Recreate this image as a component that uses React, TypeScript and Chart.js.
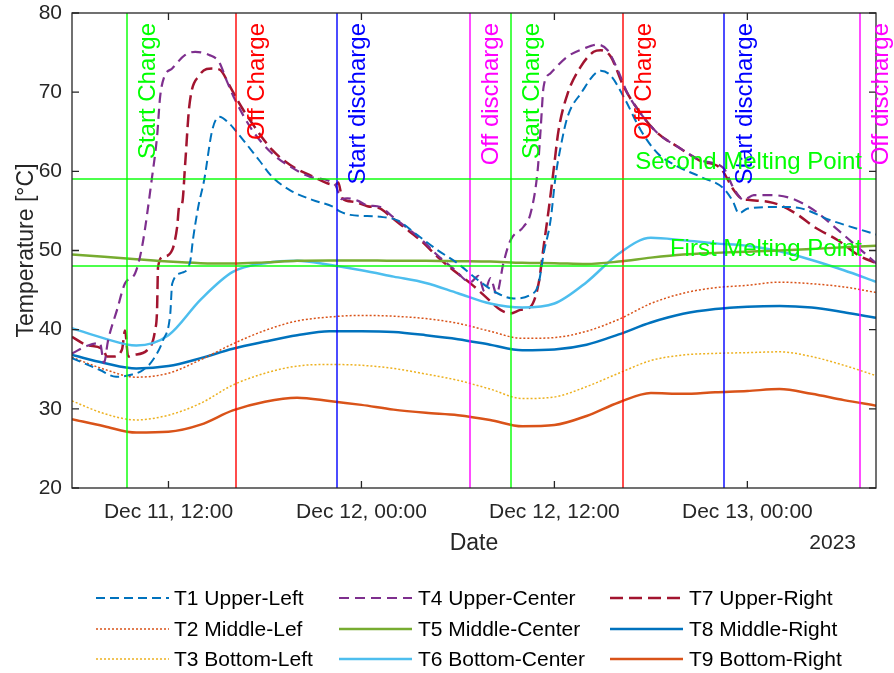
import React, { useEffect, useRef } from 'react';
import { Chart, registerables } from 'chart.js';

Chart.register(...registerables);

const FONT = '"Liberation Sans", Arial, Helvetica, sans-serif';
const AXIS_COLOR = '#262626';

// ---- x axis (hours since Dec 11, 00:00) ----
const xMinHour = 6;
const xMaxHour = 56;
const xTickHours = [12, 24, 36, 48];
const xTickLabels = ['Dec 11, 12:00', 'Dec 12, 00:00', 'Dec 12, 12:00', 'Dec 13, 00:00'];
const yearLabel = '2023';

// ---- shared time grid for the smooth sensors ----
const gridHours = [6, 8, 10, 12, 14, 16, 18, 20, 22, 24, 26, 28, 30, 32, 34, 36, 38, 40, 42, 44, 46, 48, 50, 52, 54, 56];
const t2Values = [36.5, 35.0, 34.0, 34.5, 36.2, 38.2, 39.9, 41.1, 41.6, 41.8, 41.7, 41.4, 40.8, 39.8, 38.9, 39.0, 39.8, 41.3, 43.3, 44.6, 45.3, 45.6, 46.0, 45.8, 45.4, 44.7];
const t3Values = [31.0, 29.4, 28.6, 29.2, 30.7, 33.0, 34.5, 35.4, 35.6, 35.5, 35.1, 34.4, 33.6, 32.5, 31.3, 31.5, 32.8, 34.5, 36.1, 36.8, 37.0, 37.1, 37.2, 36.6, 35.5, 34.2];
const t5Values = [49.5, 49.2, 48.9, 48.6, 48.4, 48.35, 48.5, 48.7, 48.75, 48.75, 48.7, 48.7, 48.65, 48.6, 48.45, 48.4, 48.3, 48.6, 49.1, 49.5, 49.7, 49.85, 50.0, 50.2, 50.4, 50.6];
const t6Values = [40.2, 38.9, 38.0, 39.3, 43.8, 47.3, 48.4, 48.7, 48.2, 47.5, 46.7, 45.9, 44.6, 43.3, 42.8, 43.3, 46.0, 49.6, 51.6, 51.3, 50.9, 50.6, 49.9, 48.8, 47.5, 46.05];
const t8Values = [36.8, 35.8, 35.1, 35.4, 36.4, 37.6, 38.5, 39.3, 39.8, 39.8, 39.7, 39.3, 38.8, 38.1, 37.4, 37.5, 38.1, 39.4, 40.9, 42.0, 42.6, 42.9, 43.0, 42.8, 42.2, 41.5];
const t9Values = [28.7, 27.8, 27.0, 27.1, 28.0, 29.8, 30.9, 31.4, 31.0, 30.5, 29.9, 29.5, 29.2, 28.6, 27.8, 27.95, 29.1, 30.8, 32.0, 31.9, 32.1, 32.25, 32.5, 31.9, 31.1, 30.4];

// ---- upper sensors (own time stamps) ----
const t1Hours = [6.0, 7.74, 8.74, 9.67, 10.42, 11.04, 11.67, 12.11, 12.23, 12.85, 13.35, 13.53, 13.85, 14.22, 14.72, 15.15, 15.78, 16.15, 17.64, 18.45, 19.57, 20.94, 22.25, 22.69, 23.31, 25.18, 26.24, 27.48, 28.73, 29.97, 31.22, 32.46, 33.46, 34.52, 35.02, 35.33, 35.76, 36.07, 36.39, 36.82, 37.63, 38.88, 39.5, 40.31, 41.37, 42.43, 43.67, 45.1, 46.54, 47.1, 47.47, 48.03, 50.08, 51.14, 53.2, 56.06];
const t1Values = [36.4, 34.9, 34.05, 34.3, 34.9, 36.2, 38.7, 42.0, 45.8, 47.2, 48.6, 51.5, 55.5, 58.9, 65.2, 66.9, 66.05, 65.2, 61.4, 59.3, 57.6, 56.4, 55.5, 54.9, 54.5, 54.25, 53.8, 51.95, 50.05, 48.4, 46.3, 44.6, 43.95, 44.4, 45.85, 49.6, 53.8, 59.3, 63.1, 66.9, 69.8, 72.7, 72.1, 69.4, 65.2, 62.25, 60.6, 59.3, 57.8, 56.2, 54.7, 55.3, 55.5, 55.4, 53.8, 52.0];

const t4Hours = [6.0, 7.0, 7.74, 7.99, 8.24, 8.8, 9.3, 9.92, 10.36, 10.98, 11.29, 11.48, 11.73, 12.23, 13.04, 13.66, 14.53, 15.15, 15.65, 16.15, 17.21, 18.45, 19.57, 20.82, 22.38, 22.75, 23.12, 23.75, 24.37, 25.18, 25.8, 26.61, 27.67, 28.73, 29.72, 30.78, 31.28, 31.65, 32.03, 32.4, 32.84, 33.27, 34.08, 34.52, 34.96, 35.14, 35.33, 35.76, 36.82, 37.82, 38.69, 39.31, 39.94, 40.56, 41.37, 42.43, 43.67, 45.1, 46.54, 47.16, 47.78, 48.4, 49.46, 50.71, 52.14, 53.63, 55.07, 56.06];
const t4Values = [37.0, 38.0, 38.3, 35.8, 38.6, 42.5, 45.85, 47.1, 50.5, 59.3, 64.4, 69.4, 71.9, 73.0, 74.7, 75.1, 74.7, 73.8, 71.3, 69.0, 65.2, 62.25, 60.6, 59.3, 58.25, 56.5, 56.6, 56.3, 55.7, 55.5, 54.5, 53.2, 51.5, 49.4, 47.7, 46.0, 46.8, 44.8, 46.5, 44.5, 48.5, 51.3, 53.0, 54.7, 60.15, 65.2, 70.7, 72.4, 74.5, 75.5, 76.0, 75.3, 72.8, 69.8, 67.3, 64.8, 63.1, 61.4, 60.35, 57.8, 56.4, 57.0, 57.0, 56.6, 55.1, 52.6, 50.05, 48.3];

const t7Hours = [6.0, 6.93, 7.93, 8.18, 8.55, 9.11, 9.3, 9.49, 9.8, 10.67, 11.17, 11.29, 11.35, 11.67, 12.23, 12.54, 12.66, 12.85, 13.04, 13.29, 13.91, 14.72, 15.22, 15.78, 16.4, 17.21, 18.45, 19.57, 20.82, 22.38, 22.56, 22.81, 23.5, 24.37, 25.18, 25.8, 26.61, 27.67, 28.73, 29.72, 30.78, 31.59, 32.65, 33.27, 33.9, 34.52, 35.02, 35.33, 35.64, 35.95, 36.26, 36.82, 37.63, 38.44, 38.88, 39.5, 40.31, 41.37, 42.43, 43.67, 45.1, 46.35, 47.16, 47.6, 48.03, 49.27, 50.08, 51.14, 52.14, 53.63, 55.07, 56.06];
const t7Values = [39.1, 38.05, 37.5, 36.6, 36.6, 37.5, 39.9, 36.6, 36.8, 37.4, 39.95, 42.5, 47.9, 49.2, 50.05, 53.0, 55.5, 55.95, 61.0, 68.15, 72.1, 73.0, 72.8, 70.9, 68.6, 66.05, 62.7, 60.8, 59.5, 58.3, 58.6, 56.6, 56.15, 55.6, 55.3, 54.3, 53.0, 51.3, 49.2, 47.5, 45.85, 44.4, 42.5, 42.05, 42.5, 42.9, 45.85, 50.5, 55.1, 60.15, 65.2, 69.8, 73.2, 75.1, 75.3, 74.5, 70.7, 67.3, 64.8, 63.1, 61.3, 60.35, 57.6, 56.6, 56.4, 56.15, 55.7, 54.5, 53.0, 51.3, 49.2, 48.4];

// ---- events and melting points ----
const eventHours = [9.41, 16.17, 22.48, 30.74, 33.32, 40.29, 46.55, 54.98];
const eventLabels = ['Start Charge', 'Off Charge', 'Start discharge', 'Off discharge', 'Start Charge', 'Off Charge', 'Start discharge', 'Off discharge'];
const eventTextColors = ['#00ff00', '#ff0000', '#0000ff', '#ff00ff'];
const eventLineColors = ['rgba(0,255,0,0.7)', 'rgba(255,0,0,0.7)', 'rgba(0,0,255,0.7)', 'rgba(255,0,255,0.7)'];
const meltTemps = [59, 48];
const meltLabels = ['Second Melting Point', 'First Melting Point'];

const seriesNames = ['T1 Upper-Left', 'T2 Middle-Lef', 'T3 Bottom-Left', 'T4 Upper-Center', 'T5 Middle-Center', 'T6 Bottom-Center', 'T7 Upper-Right', 'T8 Middle-Right', 'T9 Bottom-Right'];
const seriesColors = ['#0072BD', '#D95319', '#EDB120', '#7E2F8E', '#77AC30', '#4DBEEE', '#A2142F', '#0072BD', '#D95319'];

const pairs = (xs: number[], ys: number[]) => xs.map((x, i) => ({ x, y: ys[i] }));

const DASH1 = [9, 5];
const DASH4 = [10, 6];
const DASH7 = [13, 6];
const DOT = [2, 2];

function makeDatasets() {
  const src = [
    { d: pairs(t1Hours, t1Values), dash: DASH1, w: 2 },
    { d: pairs(gridHours, t2Values), dash: DOT, w: 1.5 },
    { d: pairs(gridHours, t3Values), dash: DOT, w: 1.5 },
    { d: pairs(t4Hours, t4Values), dash: DASH4, w: 2.2 },
    { d: pairs(gridHours, t5Values), dash: [], w: 2.5 },
    { d: pairs(gridHours, t6Values), dash: [], w: 2.5 },
    { d: pairs(t7Hours, t7Values), dash: DASH7, w: 2.5 },
    { d: pairs(gridHours, t8Values), dash: [], w: 2.5 },
    { d: pairs(gridHours, t9Values), dash: [], w: 2.5 },
  ];
  return src.map((s, i) => ({
    label: seriesNames[i],
    data: s.d,
    borderColor: seriesColors[i],
    backgroundColor: seriesColors[i],
    borderWidth: s.w,
    borderDash: s.dash,
    pointRadius: 0,
    fill: false,
    cubicInterpolationMode: 'monotone' as const,
  }));
}

const overlayPlugin = {
  id: 'overlay',
  afterDatasetsDraw(chart: any) {
    const { ctx, chartArea: a } = chart;
    const xs = chart.scales.x;
    const ys = chart.scales.y;
    ctx.save();
    ctx.setLineDash([]);
    ctx.lineWidth = 2;
    eventHours.forEach((h, i) => {
      const px = Math.round(xs.getPixelForValue(h));
      ctx.strokeStyle = eventLineColors[i % 4];
      ctx.beginPath();
      ctx.moveTo(px, a.top);
      ctx.lineTo(px, a.bottom);
      ctx.stroke();
    });
    meltTemps.forEach((t) => {
      const py = Math.round(ys.getPixelForValue(t));
      ctx.strokeStyle = 'rgba(0,255,0,0.7)';
      ctx.beginPath();
      ctx.moveTo(a.left, py);
      ctx.lineTo(a.right, py);
      ctx.stroke();
    });
    // frame with inward ticks
    ctx.strokeStyle = AXIS_COLOR;
    ctx.lineWidth = 1.3;
    ctx.strokeRect(a.left, a.top, a.right - a.left, a.bottom - a.top);
    const tl = 7;
    ctx.beginPath();
    ys.ticks.forEach((t: any) => {
      const py = ys.getPixelForValue(t.value);
      ctx.moveTo(a.left, py);
      ctx.lineTo(a.left + tl, py);
      ctx.moveTo(a.right, py);
      ctx.lineTo(a.right - tl, py);
    });
    xs.ticks.forEach((t: any) => {
      const px = xs.getPixelForValue(t.value);
      ctx.moveTo(px, a.bottom);
      ctx.lineTo(px, a.bottom - tl);
      ctx.moveTo(px, a.top);
      ctx.lineTo(px, a.top + tl);
    });
    ctx.stroke();
    ctx.restore();
  },
  afterDraw(chart: any) {
    const { ctx, chartArea: a } = chart;
    const xs = chart.scales.x;
    const ys = chart.scales.y;
    ctx.save();
    ctx.font = `24px ${FONT}`;
    // vertical event labels
    eventHours.forEach((h, i) => {
      const px = Math.round(xs.getPixelForValue(h));
      ctx.save();
      ctx.translate(px + 28, a.top + 10);
      ctx.rotate(-Math.PI / 2);
      ctx.textAlign = 'right';
      ctx.textBaseline = 'alphabetic';
      ctx.fillStyle = eventTextColors[i % 4];
      ctx.fillText(eventLabels[i], 0, 0);
      ctx.restore();
    });
    // melting point labels
    ctx.textAlign = 'right';
    ctx.textBaseline = 'alphabetic';
    ctx.fillStyle = '#00ff00';
    meltTemps.forEach((t, i) => {
      const py = ys.getPixelForValue(t);
      ctx.fillText(meltLabels[i], a.right - 14, py - 10);
    });
    // year label
    ctx.font = `21px ${FONT}`;
    ctx.fillStyle = AXIS_COLOR;
    ctx.textBaseline = 'middle';
    ctx.fillText(yearLabel, a.right - 20, 543);
    // legend (3 columns, column-major)
    const colLine = [96, 339, 610];
    const colText = [174, 418, 689];
    const rowY = [598, 629, 659];
    const lineLen = 73;
    chart.data.datasets.forEach((ds: any, i: number) => {
      const col = Math.floor(i / 3);
      const row = i % 3;
      const y = rowY[row];
      ctx.save();
      ctx.strokeStyle = ds.borderColor;
      ctx.lineWidth = ds.borderWidth;
      ctx.setLineDash(ds.borderDash || []);
      ctx.beginPath();
      ctx.moveTo(colLine[col], y);
      ctx.lineTo(colLine[col] + lineLen, y);
      ctx.stroke();
      ctx.restore();
      ctx.textAlign = 'left';
      ctx.textBaseline = 'middle';
      ctx.fillStyle = '#000';
      ctx.fillText(ds.label, colText[col], y + 1);
    });
    ctx.restore();
  },
};

export default function App() {
  const ref = useRef<HTMLCanvasElement>(null);
  useEffect(() => {
    if (!ref.current) return;
    const chart = new Chart(ref.current, {
      type: 'line',
      data: { datasets: makeDatasets() as any },
      options: {
        responsive: false,
        devicePixelRatio: 1,
        animation: false,
        layout: { padding: { top: 13, right: 18, bottom: 112, left: 0 } },
        plugins: { legend: { display: false }, tooltip: { enabled: false } },
        scales: {
          x: {
            type: 'linear',
            min: xMinHour,
            max: xMaxHour,
            afterBuildTicks: (s: any) => {
              s.ticks = xTickHours.map((v) => ({ value: v }));
            },
            afterFit: (s: any) => {
              s.height = 73;
              s.paddingLeft = 0;
              s.paddingRight = 0;
            },
            ticks: {
              autoSkip: false,
              maxRotation: 0,
              padding: 12,
              color: AXIS_COLOR,
              font: { family: FONT, size: 21 },
              callback: (_v: any, idx: number) => xTickLabels[idx],
            },
            grid: { display: false, drawTicks: false },
            border: { display: false },
            title: {
              display: true,
              text: 'Date',
              color: AXIS_COLOR,
              font: { family: FONT, size: 23 },
              padding: { top: 0, bottom: 4 },
            },
          },
          y: {
            type: 'linear',
            min: 20,
            max: 80,
            afterFit: (s: any) => {
              s.width = 72;
              s.paddingTop = 0;
              s.paddingBottom = 0;
            },
            ticks: {
              stepSize: 10,
              padding: 10,
              color: AXIS_COLOR,
              font: { family: FONT, size: 21 },
            },
            grid: { display: false, drawTicks: false },
            border: { display: false },
            title: {
              display: true,
              text: 'Temperature [°C]',
              color: AXIS_COLOR,
              font: { family: FONT, size: 23 },
              padding: { top: 13, bottom: 0 },
            },
          },
        },
      } as any,
      plugins: [overlayPlugin],
    });
    return () => chart.destroy();
  }, []);
  return (
    <div style={{ position: 'absolute', left: 0, top: 0, width: 894, height: 673, background: '#fff' }}>
      <canvas ref={ref} width={894} height={673} style={{ display: 'block', width: 894, height: 673 }} />
    </div>
  );
}
